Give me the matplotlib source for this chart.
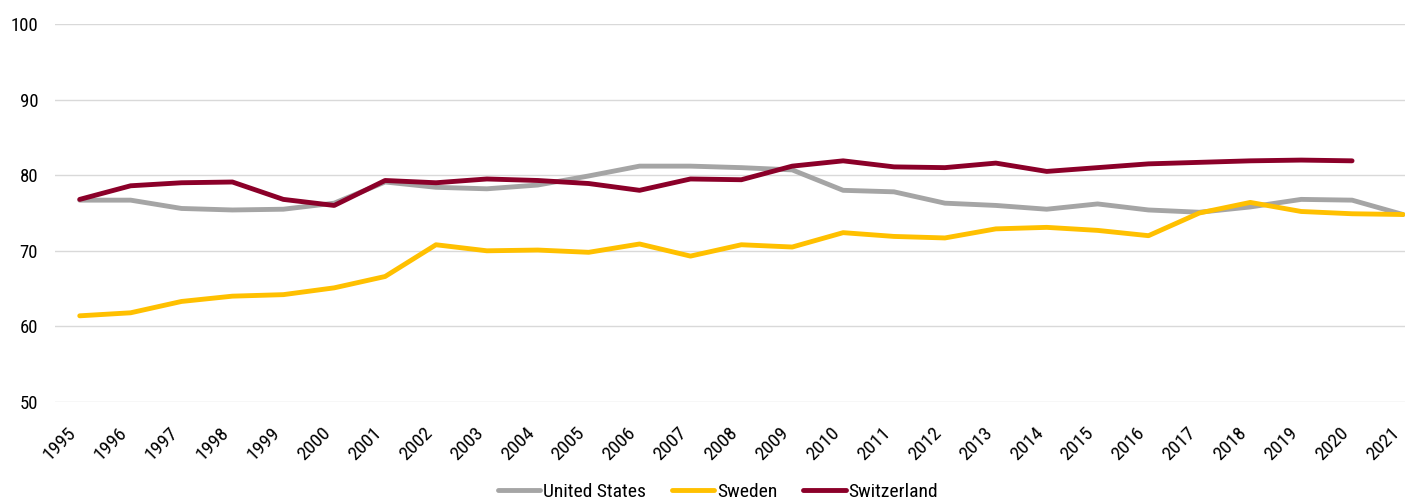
import numpy as np
import matplotlib.pyplot as plt

plt.rcParams['font.family'] = ['Roboto Condensed', 'Liberation Sans Narrow', 'Roboto', 'DejaVu Sans']

years = [str(y) for y in range(1995, 2022)]

us = [76.7, 76.7, 75.6, 75.4, 75.5, 76.3, 79.1, 78.4, 78.2, 78.7, 79.9, 81.2, 81.2,
      81.0, 80.7, 78.0, 77.8, 76.3, 76.0, 75.5, 76.2, 75.4, 75.1, 75.8, 76.8, 76.7, 74.8]
sweden = [61.4, 61.8, 63.3, 64.0, 64.2, 65.1, 66.6, 70.8, 70.0, 70.1, 69.8, 70.9, 69.3,
          70.8, 70.5, 72.4, 71.9, 71.7, 72.9, 73.1, 72.7, 72.0, 75.0, 76.4, 75.2, 74.9, 74.8]
switzerland = [76.8, 78.6, 79.0, 79.1, 76.8, 76.0, 79.3, 79.0, 79.5, 79.3, 78.9, 78.0, 79.5,
               79.4, 81.2, 81.9, 81.1, 81.0, 81.6, 80.5, 81.0, 81.5, 81.7, 81.9, 82.0, 81.9, np.nan]

fig = plt.figure(figsize=(14.05, 5.0), dpi=100)
ax = fig.add_axes([0.039, 0.196, 0.961, 0.756])

x = np.arange(len(years))
ax.plot(x, us, color='#A5A5A5', lw=3.5, label='United States', solid_capstyle='round')
ax.plot(x, sweden, color='#FFC000', lw=3.5, label='Sweden', solid_capstyle='round')
ax.plot(x, switzerland, color='#8B0029', lw=3.5, label='Switzerland', solid_capstyle='round')

ax.set_ylim(50, 100)
ax.set_yticks([50, 60, 70, 80, 90, 100])
ax.set_xlim(-0.49, 26.04)
ax.set_xticks(x)
ax.set_xticklabels(years, rotation=45, ha='right', va='top')
ax.grid(axis='y', color='#D9D9D9', lw=1)
ax.set_axisbelow(True)
for s in ax.spines.values():
    s.set_visible(False)
ax.tick_params(axis='both', length=0, colors='black')
ax.tick_params(axis='x', pad=16, labelsize=14)
ax.tick_params(axis='y', pad=12, labelsize=13.5)

fig.legend(loc='center', bbox_to_anchor=(0.511, 0.016), ncol=3, frameon=False,
           fontsize=14, handlelength=2.2, handletextpad=0.15, columnspacing=1.3)

fig.savefig('out.png', dpi=100)
